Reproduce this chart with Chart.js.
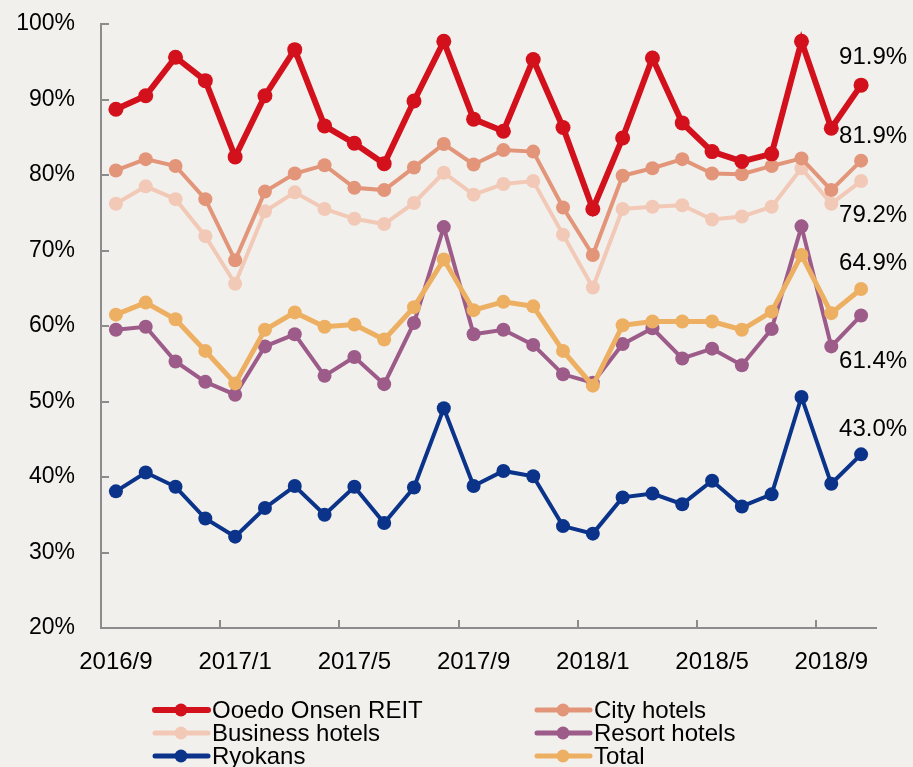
<!DOCTYPE html>
<html>
<head>
<meta charset="utf-8">
<script src="https://cdn.jsdelivr.net/npm/chart.js@4.4.1/dist/chart.umd.min.js"></script>
<style>
  html, body { margin: 0; padding: 0; background: #F1F0EC; }
  #wrap { width: 913px; height: 767px; position: relative; }
</style>
</head>
<body>
<div id="wrap"><canvas id="occ" width="913" height="767"></canvas></div>
<script>
// Monthly occupancy rates, 2016/9 - 2018/10 (%)
const months = [
  '2016/9','2016/10','2016/11','2016/12',
  '2017/1','2017/2','2017/3','2017/4','2017/5','2017/6','2017/7','2017/8','2017/9','2017/10','2017/11','2017/12',
  '2018/1','2018/2','2018/3','2018/4','2018/5','2018/6','2018/7','2018/8','2018/9','2018/10'
];
const ooedo    = [88.7,90.5,95.6,92.5,82.4,90.5,96.6,86.5,84.2,81.5,89.8,97.7,87.4,85.8,95.3,86.3,75.5,84.9,95.5,86.9,83.1,81.8,82.8,97.7,86.2,91.9];
const city     = [80.6,82.1,81.2,76.8,68.7,77.8,80.2,81.3,78.3,78.0,81.0,84.1,81.4,83.3,83.1,75.7,69.4,79.9,80.9,82.1,80.2,80.1,81.2,82.2,78.0,81.9];
const business = [76.2,78.5,76.8,71.9,65.6,75.2,77.7,75.5,74.2,73.5,76.3,80.3,77.4,78.8,79.2,72.1,65.1,75.5,75.8,76.0,74.1,74.5,75.8,80.9,76.2,79.2];
const resort   = [59.5,59.9,55.3,52.6,50.9,57.3,58.9,53.4,55.9,52.3,60.4,73.1,58.9,59.5,57.5,53.6,52.5,57.6,59.7,55.7,57.0,54.8,59.6,73.2,57.3,61.4];
const ryokans  = [38.1,40.6,38.7,34.5,32.1,35.9,38.8,35.0,38.7,33.9,38.6,49.1,38.8,40.8,40.1,33.5,32.5,37.3,37.8,36.4,39.5,36.1,37.7,50.6,39.1,43.0];
const total    = [61.5,63.1,60.9,56.7,52.4,59.5,61.8,59.9,60.2,58.2,62.5,68.8,62.1,63.2,62.6,56.7,52.1,60.1,60.6,60.6,60.6,59.5,61.9,69.4,61.7,64.9];
const yTicks = [20, 30, 40, 50, 60, 70, 80, 90, 100];

const FONT = "'Liberation Sans', Arial, sans-serif";
const AXIS_COLOR = '#8C8C8C';

function series(label, data, color, width, radius, order, endLabelDy) {
  return {
    label, data, order,
    borderColor: color, backgroundColor: color,
    pointBackgroundColor: color, pointBorderColor: color,
    borderWidth: width, pointRadius: radius, pointBorderWidth: 0,
    tension: 0, fill: false,
    endLabelDy
  };
}

const datasets = [
  series('Ooedo Onsen REIT', ooedo,    '#D2111D', 6, 7.5, 0, -28),
  series('City hotels',      city,     '#E3957A', 4, 7,   2, -24),
  series('Business hotels',  business, '#F2C9B7', 4, 7,   3, 34),
  series('Resort hotels',    resort,   '#9C5B88', 4, 7,   4, 46),
  series('Ryokans',          ryokans,  '#0A3389', 4, 7,   5, -25),
  series('Total',            total,    '#EDB063', 5, 7,   1, -26)
];

// tick marks drawn on the inside of both axes
const innerTicks = {
  id: 'innerTicks',
  afterDraw(chart) {
    const { ctx, scales: { x, y }, chartArea } = chart;
    ctx.save();
    ctx.strokeStyle = AXIS_COLOR;
    ctx.lineWidth = 2;
    ctx.beginPath();
    yTicks.forEach(v => {
      if (v === yTicks[0]) return;
      const py = Math.round(y.getPixelForValue(v));
      ctx.moveTo(chartArea.left, py);
      ctx.lineTo(chartArea.left + 8, py);
    });
    for (let i = 4; i < months.length; i += 4) {
      const px = Math.round((x.getPixelForValue(i) + x.getPixelForValue(i - 1)) / 2);
      ctx.moveTo(px, chartArea.bottom);
      ctx.lineTo(px, chartArea.bottom - 8);
    }
    ctx.stroke();
    ctx.restore();
  }
};

// value of the latest month written next to each series
const endLabels = {
  id: 'endLabels',
  afterDatasetsDraw(chart) {
    const { ctx, scales: { x, y } } = chart;
    ctx.save();
    ctx.font = '24px ' + FONT;
    ctx.fillStyle = '#000';
    ctx.textAlign = 'center';
    ctx.textBaseline = 'middle';
    chart.data.datasets.forEach(ds => {
      const last = ds.data.length - 1;
      const v = ds.data[last];
      const px = x.getPixelForValue(last) + 12;
      const py = y.getPixelForValue(v) + ds.endLabelDy;
      ctx.fillText(v.toFixed(1) + '%', px, py);
    });
    ctx.restore();
  }
};

// two-column legend under the plot
const gridLegend = {
  id: 'gridLegend',
  afterDraw(chart) {
    const { ctx } = chart;
    const colX = [153, 535];
    const rowY = [710, 733, 756];
    ctx.save();
    ctx.font = '24px ' + FONT;
    ctx.textBaseline = 'middle';
    ctx.textAlign = 'left';
    chart.data.datasets.forEach((ds, i) => {
      const x0 = colX[i % 2];
      const yy = rowY[Math.floor(i / 2)];
      ctx.strokeStyle = ds.borderColor;
      ctx.lineWidth = ds.borderWidth >= 6 ? 6 : 5;
      ctx.lineCap = 'round';
      ctx.beginPath();
      ctx.moveTo(x0 + 2, yy);
      ctx.lineTo(x0 + 55, yy);
      ctx.stroke();
      ctx.fillStyle = ds.borderColor;
      ctx.beginPath();
      ctx.arc(x0 + 28, yy, 6.5, 0, Math.PI * 2);
      ctx.fill();
      ctx.fillStyle = '#000';
      ctx.fillText(ds.label, x0 + 59, yy + 1);
    });
    ctx.restore();
  }
};

new Chart(document.getElementById('occ'), {
  type: 'line',
  data: { labels: months, datasets },
  options: {
    responsive: false,
    animation: false,
    events: [],
    layout: { padding: { top: 24, right: 37, bottom: 87, left: 0 } },
    plugins: { legend: { display: false }, tooltip: { enabled: false } },
    scales: {
      x: {
        type: 'category',
        offset: true,
        grid: { display: false, drawTicks: false },
        border: { display: true, color: AXIS_COLOR, width: 2 },
        ticks: {
          autoSkip: false, maxRotation: 0, minRotation: 0, padding: 20,
          color: '#000', font: { family: FONT, size: 24 },
          callback: (v, i) => (i % 4 === 0 ? months[i] : '')
        },
        afterFit(s) { s.height = 52; s.paddingLeft = 0; s.paddingRight = 0; s.paddingTop = 0; s.paddingBottom = 0; }
      },
      y: {
        min: yTicks[0], max: yTicks[yTicks.length - 1],
        grid: { display: false, drawTicks: false },
        border: { display: true, color: AXIS_COLOR, width: 2 },
        ticks: {
          stepSize: 10, padding: 26,
          color: '#000', font: { family: FONT, size: 23 },
          callback: v => v + '%'
        },
        afterFit(s) { s.width = 101; s.paddingTop = 0; s.paddingBottom = 0; s.paddingLeft = 0; s.paddingRight = 0; }
      }
    }
  },
  plugins: [innerTicks, endLabels, gridLegend]
});
</script>
</body>
</html>
